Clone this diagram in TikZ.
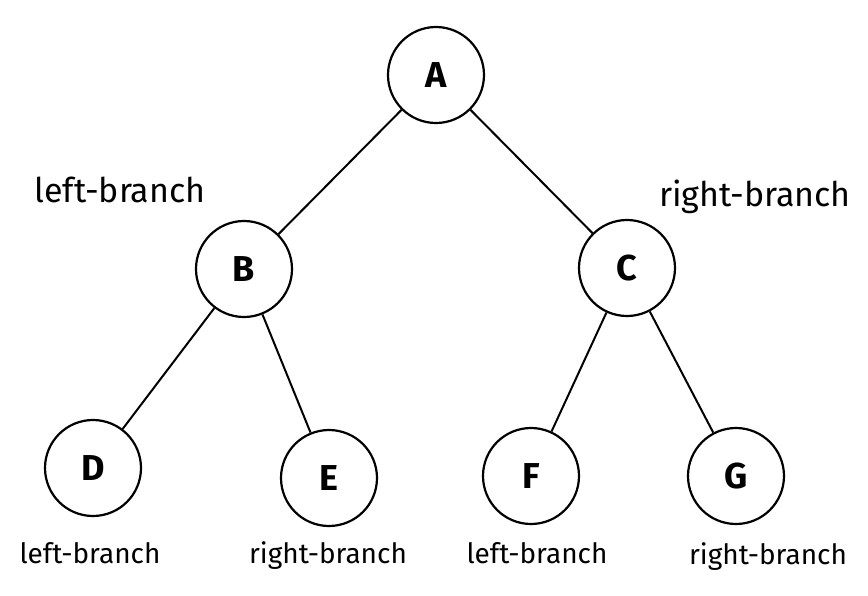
\documentclass[tikz,border=0pt]{standalone}
\usepackage{fontspec}
\setmainfont{Fira Sans}
\begin{document}
\begin{tikzpicture}[x=1pt,y=-1pt,
  treenode/.style={circle,draw=black,line width=2.2pt,minimum size=96pt,inner sep=0pt,font=\fontsize{36}{36}\selectfont\bfseries},
  edge/.style={draw=black,line width=2pt},
  biglabel/.style={font=\fontsize{34}{36}\selectfont},
  smalllabel/.style={font=\fontsize{28}{30}\selectfont}]
\useasboundingbox (0,0) rectangle (868,595);
\node[treenode] (A) at (436,75) {A};
\node[treenode] (B) at (244,269) {B};
\node[treenode] (C) at (627,268) {C};
\node[treenode] (D) at (93,468) {D};
\node[treenode] (E) at (329,478) {E};
\node[treenode] (F) at (531,476) {F};
\node[treenode] (G) at (736,476) {G};
\path[edge] (A) -- (B);
\path[edge] (A) -- (C);
\path[edge] (B) -- (D);
\path[edge] (B) -- (E);
\path[edge] (C) -- (F);
\path[edge] (C) -- (G);
\node[biglabel] (lb1) at (120,190) {left-branch};
\node[biglabel] (rb1) at (755,197) {right-branch};
\node[smalllabel] (lb2) at (90,553) {left-branch};
\node[smalllabel] (rb2) at (328,556) {right-branch};
\node[smalllabel] (lb3) at (537,553) {left-branch};
\node[smalllabel] (rb3) at (768,557) {right-branch};
\end{tikzpicture}
\end{document}
